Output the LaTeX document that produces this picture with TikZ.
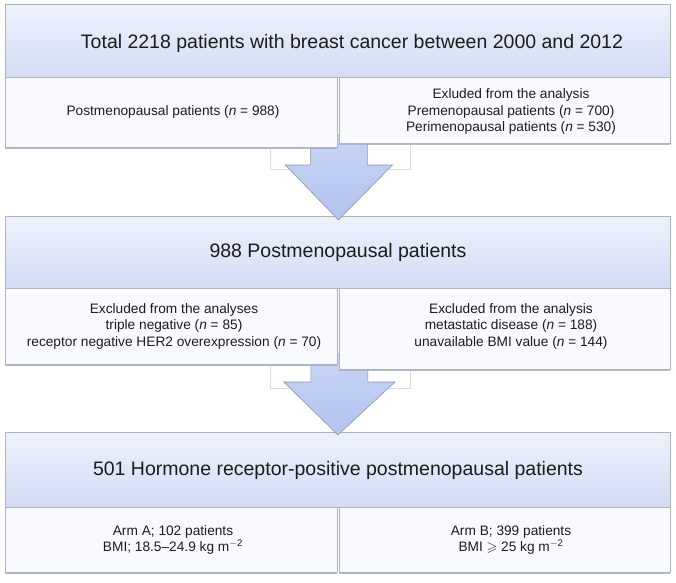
\documentclass[tikz,border=0pt]{standalone}
\usepackage{fontspec}
\setmainfont{Liberation Sans}
\usepackage{amssymb}
\usetikzlibrary{calc,shadows}
\definecolor{hdtop}{HTML}{EEF2FB}
\definecolor{hdbot}{HTML}{D3DCF6}
\definecolor{cellfill}{HTML}{F9FAFE}
\definecolor{edge}{HTML}{B0B3BC}
\definecolor{arrtop}{HTML}{C8D4F6}
\definecolor{arrbot}{HTML}{B4C4EF}
\definecolor{arredge}{HTML}{8E96AA}
\definecolor{txt}{HTML}{1C1C1C}
\definecolor{shadowc}{HTML}{A3ABC2}
\pgfdeclarelayer{front}
\pgfsetlayers{main,front}
\tikzset{
  header/.style={draw=edge, line width=0.8pt, top color=hdtop, bottom color=hdbot,
    anchor=north west, inner sep=0pt, text=txt, minimum width=665pt},
  cellbox/.style={draw=edge, line width=0.8pt, fill=cellfill, anchor=north west, inner sep=0pt,
    drop shadow={shadow xshift=0pt, shadow yshift=-2pt, fill=shadowc, opacity=0.8}},
  titletext/.style={font=\fontsize{19.5}{22}\selectfont, text=txt, inner sep=0pt},
  celltext/.style={font=\fontsize{13.7}{16.5}\selectfont, text=txt, align=center, inner sep=0pt},
  arrowbody/.style={draw=arredge, line width=0.6pt, top color=arrtop, bottom color=arrbot, line join=miter},
  ghost/.style={draw=edge!45, line width=0.5pt, fill=white}
}
\begin{document}
\begin{tikzpicture}[x=1pt,y=-1pt]
\useasboundingbox[fill=white] (0,0) rectangle (676,582);

% headers of boxes 2 and 3 (under the arrow tips)
\node[header, minimum height=72pt] (h2) at (5,216) {};
\node[header, minimum height=75pt] (h3) at (5,432) {};

% faint frames behind the arrow shafts
\draw[ghost] (270,143) rectangle (410,169);
\draw[ghost] (270,364) rectangle (410,388);

% arrows
\coordinate (tip1) at ($(h2.north)+(0.5,4)$);
\coordinate (tip2) at ($(h3.north)+(0,3)$);
\draw[arrowbody] (tip1) -- ++(-53,-55) -- ++(25,0) -- ++(0,-30) -- ++(57,0)
  -- ++(0,30) -- ++(25,0) -- cycle;
\draw[arrowbody] (tip2) -- ++(-54,-53) -- ++(27,0) -- ++(0,-28) -- ++(57,0)
  -- ++(0,28) -- ++(27,0) -- cycle;

\begin{pgfonlayer}{front}
% box 1
\node[header, minimum height=73pt] (h1) at (5,4) {};
\node[cellbox, minimum width=332pt, minimum height=70pt] (c1L) at (5,77) {};
\node[cellbox, minimum width=331pt, minimum height=66pt] (c1R) at (339,77) {};
% box 2
\node[cellbox, minimum width=332pt, minimum height=76pt] (c2L) at (5,288) {};
\node[cellbox, minimum width=331pt, minimum height=81pt] (c2R) at (339,288) {};
% box 3
\node[cellbox, minimum width=332pt, minimum height=65pt] (c3L) at (5,507) {};
\node[cellbox, minimum width=331pt, minimum height=65pt] (c3R) at (339,507) {};

% texts
\node[titletext] (t1) at (352,43) {Total 2218 patients with breast cancer between 2000 and 2012};
\node[titletext] (t2) at (338,252) {988 Postmenopausal patients};
\node[titletext] (t3) at (338,470) {501 Hormone receptor-positive postmenopausal patients};

\node[celltext] (l1L) at (173,112) {Postmenopausal patients (\textit{n} = 988)};
\node[celltext] (l1R) at (511,111.5) {Exluded from the analysis\\Premenopausal patients (\textit{n} = 700)\\Perimenopausal patients (\textit{n} = 530)};
\node[celltext] (l2L) at (174,326) {Excluded from the analyses\\triple negative (\textit{n} = 85)\\receptor negative HER2 overexpression (\textit{n} = 70)};
\node[celltext] (l2R) at (511,326) {Excluded from the analysis\\metastatic disease (\textit{n} = 188)\\unavailable BMI value (\textit{n} = 144)};
\node[celltext] (l3L) at (173,540) {Arm A; 102 patients\\BMI; 18.5--24.9 kg m\textsuperscript{$-$2}};
\node[celltext] (l3R) at (511,540) {Arm B; 399 patients\\BMI $\geqslant$ 25 kg m\textsuperscript{$-$2}};
\end{pgfonlayer}
\end{tikzpicture}
\end{document}
